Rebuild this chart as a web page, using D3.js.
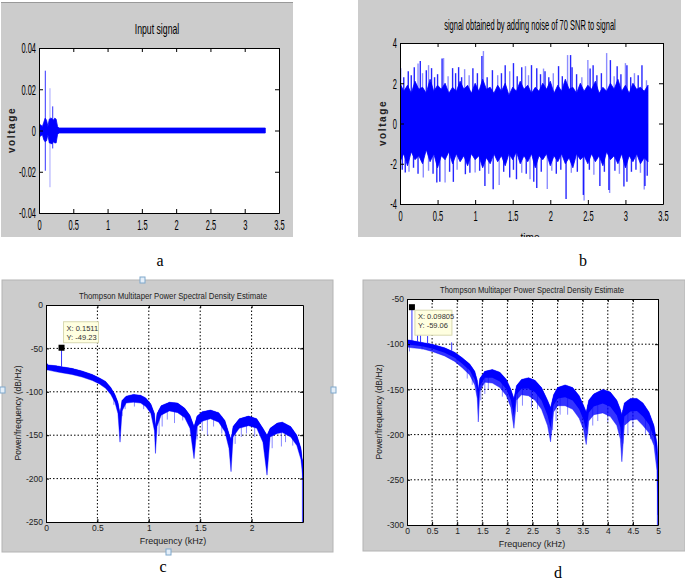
<!DOCTYPE html>
<html lang="en">
<head>
  <title>signal and spectrum panels</title>
  <meta charset="UTF-8">
  <script src="https://cdn.jsdelivr.net/npm/d3@7"></script>
  <style>
    body { margin: 0; background: #fff; }
  </style>
</head>
<body>
  <div id="box"></div>
  <script>
    const width = 685
    const height = 582

    // ---- a: input signal (envelope of the trace + single spikes)
    const aTime = [0, 0.01, 0.03, 0.05, 0.07, 0.09, 0.11, 0.13, 0.15, 0.17, 0.19, 0.21, 0.23, 0.25, 0.27, 0.29, 3.3]
    const aHigh = [0.005, 0.003, 0.0025, 0.002, 0.004, 0.006, 0.005, 0.002, 0.0055, 0.006, 0.0058, 0.005, 0.006, 0.0055, 0.002, 0.0012, 0.0012]
    const aLow = [-0.0095, -0.003, -0.0025, -0.002, -0.0045, -0.0055, -0.005, -0.002, -0.006, -0.0062, -0.0065, -0.0055, -0.006, -0.006, -0.002, -0.0012, -0.0012]
    const aSpikeTime = [0.092, 0.16, 0.2]
    const aSpikeHigh = [0.029, 0.0205, 0.0117]
    const aSpikeLow = [-0.0195, -0.0275, -0.0087]
    const aXTicks = [0, 0.5, 1, 1.5, 2, 2.5, 3, 3.5]
    const aYTicks = [-0.04, -0.02, 0, 0.02, 0.04]

    // ---- b: signal + noise (dense band + peaks)
    const bTime = [0, 0.05, 0.1, 0.15, 0.2, 0.25, 0.3, 0.35, 0.4, 0.45, 0.5, 0.55, 0.6, 0.65, 0.7, 0.75, 0.8, 0.85, 0.9, 0.95,
      1, 1.05, 1.1, 1.15, 1.2, 1.25, 1.3, 1.35, 1.4, 1.45, 1.5, 1.55, 1.6, 1.65, 1.7, 1.75, 1.8, 1.85, 1.9, 1.95,
      2, 2.05, 2.1, 2.15, 2.2, 2.25, 2.3, 2.35, 2.4, 2.45, 2.5, 2.55, 2.6, 2.65, 2.7, 2.75, 2.8, 2.85, 2.9, 2.95,
      3, 3.05, 3.1, 3.15, 3.2, 3.25, 3.3]
    const bHigh = [2.0, 1.6, 1.9, 1.5, 2.1, 1.7, 1.8, 1.5, 2.2, 1.6, 1.9, 1.7, 2.0, 1.5, 1.8, 1.6, 2.1, 1.7, 1.9, 1.5,
      2.0, 1.6, 2.2, 1.7, 1.8, 1.5, 1.9, 1.6, 2.0, 1.4, 1.8, 1.6, 2.1, 1.7, 1.9, 1.5, 1.8, 1.6, 2.0, 1.7,
      2.1, 1.5, 1.9, 1.6, 2.2, 1.7, 1.8, 1.5, 2.0, 1.6, 1.9, 1.7, 2.1, 1.5, 1.8, 1.6, 2.0, 1.7, 2.2, 1.6,
      1.9, 1.5, 2.0, 1.7, 1.8, 1.6, 1.9]
    const bLow = [-1.9, -1.5, -2.1, -1.4, -1.8, -1.6, -2.0, -1.3, -1.9, -1.5, -2.2, -1.6, -1.8, -1.4, -2.0, -1.5, -1.9, -1.6, -2.1, -1.5,
      -1.8, -1.6, -2.2, -1.7, -2.0, -1.5, -1.9, -1.6, -2.1, -1.5, -1.8, -1.4, -2.0, -1.6, -1.9, -1.5, -2.2, -1.6, -1.8, -1.5,
      -2.1, -1.6, -1.9, -1.5, -2.0, -1.7, -2.2, -1.5, -1.8, -1.6, -2.0, -1.5, -1.9, -1.6, -2.1, -1.4, -1.8, -1.6, -2.0, -1.5,
      -2.2, -1.6, -1.9, -1.5, -2.0, -1.7, -1.9]
    const bUpTime = [0.01, 0.11, 0.19, 0.24, 0.27, 0.35, 0.38, 0.42, 0.56, 0.58, 0.70, 0.78, 0.86, 0.97, 1.09, 1.11, 1.23, 1.40, 1.46, 1.51, 1.62, 1.67, 1.75, 1.82, 1.91, 1.93, 2.11, 2.23, 2.27, 2.29, 2.50, 2.53, 2.57, 2.75, 2.80, 2.89, 3.0, 3.02, 3.22, 3.28,
      0.05, 0.15, 0.30, 0.46, 0.50, 0.64, 0.74, 0.82, 0.92, 1.03, 1.16, 1.30, 1.35, 1.56, 1.71, 1.87, 1.98, 2.04, 2.16, 2.35, 2.42, 2.62, 2.68, 2.85, 2.94, 3.07, 3.12, 3.17]
    const bUpValue = [2.75, 2.6, 2.8, 2.98, 3.1, 2.65, 2.9, 2.75, 3.23, 3.25, 2.75, 2.8, 2.7, 2.75, 3.35, 3.6, 2.65, 2.9, 2.6, 3.0, 2.8, 2.85, 2.9, 2.75, 2.73, 2.6, 2.85, 3.4, 3.4, 2.8, 3.15, 2.73, 2.9, 3.5, 3.15, 2.85, 3.0, 2.9, 2.9, 2.15,
      2.3, 2.4, 2.5, 2.3, 2.45, 2.35, 2.5, 2.3, 2.4, 2.5, 2.3, 2.4, 2.5, 2.35, 2.4, 2.45, 2.3, 2.5, 2.35, 2.45, 2.3, 2.4, 2.5, 2.35, 2.45, 2.3, 2.5, 2.4]
    const bDownTime = [0.07, 0.31, 0.49, 0.53, 0.60, 0.71, 0.87, 1.0, 1.13, 1.24, 1.32, 1.46, 1.55, 1.73, 1.78, 1.82, 1.96, 2.21, 2.44, 2.45, 2.66, 2.78, 2.79, 2.98, 3.02, 3.25, 3.26,
      0.03, 0.12, 0.18, 0.24, 0.38, 0.44, 0.66, 0.76, 0.93, 1.06, 1.18, 1.38, 1.51, 1.62, 1.68, 1.88, 2.02, 2.08, 2.14, 2.28, 2.36, 2.52, 2.58, 2.72, 2.86, 2.92, 3.08, 3.14, 3.2, 3.29]
    const bDownValue = [-2.43, -2.68, -2.93, -2.9, -2.93, -2.9, -2.52, -2.43, -3.1, -3.27, -3.05, -2.68, -2.77, -2.77, -2.9, -3.2, -3.25, -3.75, -3.55, -3.83, -3.1, -3.3, -3.45, -3.13, -2.9, -3.28, -3.1,
      -2.3, -2.4, -2.2, -2.5, -2.35, -2.5, -2.4, -2.3, -2.45, -2.35, -2.5, -2.4, -2.3, -2.45, -2.5, -2.4, -2.35, -2.5, -2.3, -2.45, -2.4, -2.3, -2.55, -2.4, -2.35, -2.5, -2.4, -2.3, -2.45, -2.6]
    const bXTicks = [0, 0.5, 1, 1.5, 2, 2.5, 3, 3.5]
    const bYTicks = [-4, -2, 0, 2, 4]

    // ---- c: PSD of the input signal (kHz, dB/Hz)
    const cFreq = [0, 0.02, 0.1, 0.15, 0.25, 0.35, 0.45, 0.52, 0.58, 0.63, 0.67, 0.70, 0.72, 0.74, 0.78, 0.85, 0.92, 0.97, 1.02, 1.055, 1.065, 1.08, 1.12, 1.2, 1.28, 1.35, 1.40, 1.44, 1.47, 1.52, 1.6, 1.68, 1.74, 1.78, 1.80, 1.82, 1.88, 1.97, 2.05, 2.11, 2.15, 2.18, 2.25, 2.30, 2.38, 2.44, 2.48, 2.5]
    const cHigh = [-66, -69, -70, -71, -73, -76, -80, -84, -88, -95, -103, -112, -125, -110, -105, -103, -104, -107, -114, -125, -140, -125, -116, -112, -113, -119, -127, -140, -128, -123, -121, -124, -133, -148, -155, -140, -131, -128, -131, -142, -150, -142, -136, -135, -140, -150, -165, -185]
    const cLow = [-75, -75, -77, -78, -80, -83, -87, -91, -96, -103, -112, -125, -158, -122, -113, -112, -113, -117, -125, -145, -171, -140, -127, -122, -124, -130, -142, -177, -140, -134, -131, -135, -146, -165, -192, -152, -142, -139, -142, -158, -196, -152, -148, -147, -152, -162, -178, -200]
    const cSpikeFreq = [0.66, 0.74, 0.77, 0.86, 0.95, 1.1, 1.13, 1.18, 1.25, 1.33, 1.47, 1.52, 1.57, 1.63, 1.71, 1.84, 1.9, 1.95, 2.03, 2.2, 2.29, 2.33, 2.4]
    const cSpikeValue = [-115, -128, -120, -117, -120, -150, -140, -132, -136, -133, -155, -145, -150, -140, -148, -160, -152, -148, -152, -165, -163, -158, -162]
    const cTip = { x: 0.1511, y: -49.23 }
    const cXTicks = [0, 0.5, 1, 1.5, 2]
    const cYTicks = [-250, -200, -150, -100, -50, 0]

    // ---- d: PSD of the noisy signal
    const dFreq = [0, 0.1, 0.3, 0.5, 0.75, 0.95, 1.1, 1.25, 1.35, 1.40, 1.42, 1.45, 1.55, 1.7, 1.85, 1.98, 2.07, 2.13, 2.18, 2.28, 2.42, 2.55, 2.68, 2.80, 2.86, 2.92, 3.0, 3.15, 3.3, 3.43, 3.52, 3.57, 3.62, 3.72, 3.9, 4.05, 4.18, 4.25, 4.28, 4.33, 4.45, 4.58, 4.7, 4.82, 4.92, 4.98, 5.0]
    const dHigh = [-95, -96, -98, -100, -104, -109, -115, -122, -130, -140, -150, -138, -130, -128, -131, -139, -150, -160, -146, -139, -137, -140, -148, -162, -170, -156, -148, -145, -148, -157, -168, -175, -162, -155, -150, -153, -162, -172, -178, -165, -160, -160, -165, -175, -190, -210, -230]
    const dLow = [-103, -104, -105, -108, -113, -119, -126, -134, -145, -160, -186, -152, -142, -143, -148, -157, -170, -193, -162, -156, -157, -162, -172, -190, -208, -175, -168, -168, -172, -182, -195, -211, -185, -178, -176, -180, -190, -205, -230, -190, -184, -183, -190, -198, -212, -240, -289]
    const dSpikeFreq = [0.05, 0.3, 1.2, 1.3, 1.47, 1.55, 1.62, 1.9, 2.2, 2.3, 2.48, 2.6, 2.9, 2.97, 3.05, 3.2, 3.6, 3.7, 3.8, 4.0, 4.3, 4.4, 4.5, 4.75, 4.85]
    const dSpikeValue = [-108, -106, -138, -145, -162, -155, -150, -158, -175, -168, -170, -172, -195, -185, -178, -178, -200, -190, -185, -186, -210, -200, -192, -200, -205]
    const dUpFreq = [0, 0.2, 0.26, 0.4, 0.88]
    const dUpValue = [-50, -87, -90, -91, -98]
    const dTip = { x: 0.09805, y: -59.06 }
    const dXTicks = [0, 0.5, 1, 1.5, 2, 2.5, 3, 3.5, 4, 4.5, 5]
    const dYTicks = [-300, -250, -200, -150, -100, -50]

    const blue = '#0000ff'
    const sans = "'Liberation Sans', Arial, sans-serif"

    const svg = d3.select('#box').append('svg')
      .attr('width', width)
      .attr('height', height)
      .style('background', '#fff')

    // linear interpolation of an envelope at x
    function interp(xs, ys, x) {
      const i = Math.max(1, Math.min(xs.length - 1, d3.bisectLeft(xs, x)))
      const t = (x - xs[i - 1]) / (xs[i] - xs[i - 1])
      return ys[i - 1] + (ys[i] - ys[i - 1]) * t
    }

    // horizontally squeezed text (MATLAB screen font look)
    function narrowText(g, x, y, str, size, sx) {
      return g.append('text').attr('transform', `scale(${sx},1)`)
        .attr('x', x / sx).attr('y', y).attr('text-anchor', 'middle')
        .attr('font-family', sans).attr('font-size', size).text(str)
    }

    // MATLAB-style axes box with inward ticks on every side
    function matlabAxes(g, x, y, xt, yt, o) {
      const [xl, xr] = x.range()
      const [yb, ytop] = y.range()
      const fmt = d => String(d)
      const sx = o.sx || 1
      const bottom = g.append('g').attr('transform', `translate(0,${yb})`)
        .call(d3.axisBottom(x).tickValues(xt).tickSizeInner(-o.tick).tickSizeOuter(0).tickPadding(o.padX).tickFormat(fmt))
      const left = g.append('g').attr('transform', `translate(${xl},0)`)
        .call(d3.axisLeft(y).tickValues(yt).tickSizeInner(-o.tick).tickSizeOuter(0).tickPadding(o.padY).tickFormat(fmt))
      g.append('g').attr('transform', `translate(0,${ytop})`)
        .call(d3.axisTop(x).tickValues(xt).tickSizeInner(-o.tick).tickSizeOuter(0).tickFormat(''))
      g.append('g').attr('transform', `translate(${xr},0)`)
        .call(d3.axisRight(y).tickValues(yt).tickSizeInner(-o.tick).tickSizeOuter(0).tickFormat(''))
      g.selectAll('.domain').attr('stroke', '#000')
      g.selectAll('.tick line').attr('stroke', '#000')
      g.selectAll('.tick text').attr('font-family', o.font).attr('font-size', o.size).attr('fill', o.color)
      if (sx !== 1) {
        bottom.selectAll('text').attr('transform', `scale(${sx},1)`)
        left.selectAll('text').attr('x', -o.padY / sx).attr('transform', `scale(${sx},1)`)
      }
    }

    function plotRect(g, x, y, id) {
      const [xl, xr] = x.range()
      const [yb, yt] = y.range()
      g.append('rect').attr('x', xl).attr('y', yt).attr('width', xr - xl).attr('height', yb - yt).attr('fill', '#fff')
      svg.append('clipPath').attr('id', id).append('rect')
        .attr('x', xl).attr('y', yt).attr('width', xr - xl).attr('height', yb - yt)
      return g.append('g').attr('clip-path', `url(#${id})`)
    }

    // condensed MATLAB text look for panels a and b
    const tickStyleAB = { tick: 4, padX: 6, padY: 3, font: sans, size: 15, color: '#000', sx: 0.5 }

    // ================= panel a
    {
      const g = svg.append('g')
      g.append('rect').attr('x', 1).attr('y', 2).attr('width', 292).attr('height', 235).attr('fill', '#cccccc')
      g.append('line').attr('x1', 1).attr('x2', 293).attr('y1', 2.5).attr('y2', 2.5).attr('stroke', '#999')
      const x = d3.scaleLinear().domain([0, 3.5]).range([39, 279])
      const y = d3.scaleLinear().domain([-0.04, 0.04]).range([213, 48])
      const data = plotRect(g, x, y, 'clipA')
      data.append('path').datum(aTime)
        .attr('d', d3.area().x(d => x(d)).y0((d, i) => y(aLow[i])).y1((d, i) => y(aHigh[i])))
        .attr('fill', blue).attr('stroke', blue).attr('stroke-width', 0.8)
      data.append('line').attr('x1', x(0.002)).attr('x2', x(0.002)).attr('y1', y(0.005)).attr('y2', y(-0.0095))
        .attr('stroke', blue).attr('stroke-width', 1.2)
      data.selectAll('.spk').data(aSpikeTime).join('line')
        .attr('x1', d => x(d)).attr('x2', d => x(d))
        .attr('y1', (d, i) => y(aSpikeHigh[i])).attr('y2', (d, i) => y(aSpikeLow[i]))
        .attr('stroke', blue).attr('stroke-width', 1).attr('stroke-opacity', (d, i) => i === 1 ? 0.35 : 0.8)
      matlabAxes(g, x, y, aXTicks, aYTicks, tickStyleAB)
      narrowText(g, 157, 34, 'Input signal', 15, 0.58)
      g.append('text').attr('transform', 'translate(15,130) rotate(-90)').attr('text-anchor', 'middle')
        .attr('font-family', sans).attr('font-size', 10).attr('font-weight', 'bold').attr('fill', '#222')
        .attr('letter-spacing', 1.6).text('voltage')
    }

    // ================= panel b
    {
      svg.append('clipPath').attr('id', 'frameB').append('rect').attr('x', 358).attr('y', 0).attr('width', 323).attr('height', 237)
      const g = svg.append('g').attr('clip-path', 'url(#frameB)')
      g.append('rect').attr('x', 358).attr('y', 0).attr('width', 323).attr('height', 237).attr('fill', '#cccccc')
      const x = d3.scaleLinear().domain([0, 3.5]).range([400, 663])
      const y = d3.scaleLinear().domain([-4, 4]).range([204, 43])
      const data = plotRect(g, x, y, 'clipB')
      data.selectAll('.up').data(bUpTime).join('line')
        .attr('x1', d => x(d)).attr('x2', d => x(d)).attr('y1', y(0)).attr('y2', (d, i) => y(bUpValue[i]))
        .attr('stroke', blue).attr('stroke-width', 1.4).attr('stroke-opacity', (d, i) => i % 3 === 0 ? 0.45 : 0.85)
      data.selectAll('.down').data(bDownTime).join('line')
        .attr('x1', d => x(d)).attr('x2', d => x(d)).attr('y1', y(0)).attr('y2', (d, i) => y(bDownValue[i]))
        .attr('stroke', blue).attr('stroke-width', 1.4).attr('stroke-opacity', (d, i) => i % 3 === 1 ? 0.45 : 0.85)
      data.append('path').datum(bTime)
        .attr('d', d3.area().x(d => x(d)).y0((d, i) => y(bLow[i])).y1((d, i) => y(bHigh[i])))
        .attr('fill', blue).attr('stroke', blue).attr('stroke-width', 0.8)
      matlabAxes(g, x, y, bXTicks, bYTicks, tickStyleAB)
      narrowText(g, 530, 30, 'signal obtained by adding noise of 70 SNR to signal', 15, 0.5)
      g.append('text').attr('transform', 'translate(386,123) rotate(-90)').attr('text-anchor', 'middle')
        .attr('font-family', sans).attr('font-size', 10).attr('font-weight', 'bold').attr('fill', '#222')
        .attr('letter-spacing', 1.6).text('voltage')
      g.append('text').attr('x', 530).attr('y', 241).attr('text-anchor', 'middle')
        .attr('font-family', sans).attr('font-size', 10).text('time')
    }

    // PSD panel helper
    function psdPanel(o) {
      const g = svg.append('g')
      g.append('rect').attr('x', o.frame[0]).attr('y', o.frame[1]).attr('width', o.frame[2]).attr('height', o.frame[3])
        .attr('fill', '#cccccc').attr('stroke', '#b4b4b4')
      const x = d3.scaleLinear().domain(o.xDomain).range(o.xRange)
      const y = d3.scaleLinear().domain(o.yDomain).range(o.yRange)
      const data = plotRect(g, x, y, o.id)
      // grid is drawn under the trace
      const gridG = data.append('g')
      const gridX = o.xTicks.filter(d => d > o.xDomain[0] && d < o.xDomain[1])
      const gridY = o.yTicks.filter(d => d > o.yDomain[0] && d < o.yDomain[1])
      gridG.attr('stroke', '#000').attr('stroke-dasharray', '1.5,2')
      gridG.selectAll('.gx').data(gridX).join('line')
        .attr('x1', d => x(d)).attr('x2', d => x(d)).attr('y1', o.yRange[0]).attr('y2', o.yRange[1])
      gridG.selectAll('.gy').data(gridY).join('line')
        .attr('x1', o.xRange[0]).attr('x2', o.xRange[1]).attr('y1', d => y(d)).attr('y2', d => y(d))

      data.selectAll('.spk').data(o.spikeF).join('line')
        .attr('x1', d => x(d)).attr('x2', d => x(d))
        .attr('y1', d => y(interp(o.freq, o.high, d))).attr('y2', (d, i) => y(o.spikeV[i]))
        .attr('stroke', '#3a3aff').attr('stroke-width', 1).attr('stroke-opacity', 0.6)
      data.append('path').datum(o.freq)
        .attr('d', d3.area().x(d => x(d)).y0((d, i) => y(o.low[i])).y1((d, i) => y(o.high[i])))
        .attr('fill', blue).attr('fill-opacity', o.lowerOpacity).attr('stroke', blue).attr('stroke-opacity', 0.5).attr('stroke-width', 0.8)
      data.append('path').datum(o.freq)
        .attr('d', d3.area().x(d => x(d))
          .y0((d, i) => y(o.high[i] + (o.low[i] - o.high[i]) * 0.6)).y1((d, i) => y(o.high[i])))
        .attr('fill', blue)
      data.selectAll('.up').data(o.upF).join('line')
        .attr('x1', d => x(d) + 0.5).attr('x2', d => x(d) + 0.5)
        .attr('y1', d => y(interp(o.freq, o.high, d))).attr('y2', (d, i) => y(o.upV[i]))
        .attr('stroke', blue).attr('stroke-width', 1).attr('stroke-opacity', 0.8)
      const endF = o.freq[o.freq.length - 1]
      data.append('line').attr('x1', x(endF) - 0.5).attr('x2', x(endF) - 0.5)
        .attr('y1', y(o.low[o.low.length - 2])).attr('y2', y(o.tailEnd))
        .attr('stroke', blue).attr('stroke-width', 1.2).attr('stroke-opacity', 0.7)
      // data tip line up to the marker
      data.append('line').attr('x1', x(o.tip.x)).attr('x2', x(o.tip.x))
        .attr('y1', y(interp(o.freq, o.high, o.tip.x))).attr('y2', y(o.tip.y))
        .attr('stroke', blue).attr('stroke-opacity', 0.8)

      matlabAxes(g, x, y, o.xTicks, o.yTicks, { tick: 3, padX: 3, padY: 3, font: sans, size: 8.5, color: '#222' })

      g.append('text').attr('x', o.titlePos[0]).attr('y', o.titlePos[1]).attr('text-anchor', 'middle')
        .attr('font-family', sans).attr('font-size', 8.5).attr('fill', '#222')
        .attr('textLength', o.titleLen).attr('lengthAdjust', 'spacingAndGlyphs')
        .text('Thompson Multitaper Power Spectral Density Estimate')
      g.append('text').attr('x', o.xLabelPos[0]).attr('y', o.xLabelPos[1]).attr('text-anchor', 'middle')
        .attr('font-family', sans).attr('font-size', 9).attr('fill', '#222').text('Frequency (kHz)')
      g.append('text').attr('transform', `translate(${o.yLabelPos[0]},${o.yLabelPos[1]}) rotate(-90)`).attr('text-anchor', 'middle')
        .attr('font-family', sans).attr('font-size', 8.5).attr('fill', '#222').text('Power/frequency (dB/Hz)')

      // data tip
      const mx = x(o.tip.x), my = y(o.tip.y)
      g.append('rect').attr('x', mx - 3).attr('y', my - 3).attr('width', 6).attr('height', 6).attr('fill', '#000')
      const bx = mx + o.boxOff[0], by = my + o.boxOff[1]
      g.append('rect').attr('x', bx).attr('y', by).attr('width', o.boxSize[0]).attr('height', o.boxSize[1])
        .attr('fill', '#ffffe0').attr('stroke', '#d8d8b0')
      g.append('text').attr('x', bx + 3).attr('y', by + 9).attr('font-family', sans).attr('font-size', 7.5).attr('fill', '#333')
        .text(`X: ${o.tip.x}`)
      g.append('text').attr('x', bx + 3).attr('y', by + 18).attr('font-family', sans).attr('font-size', 7.5).attr('fill', '#333')
        .text(`Y: ${o.tip.y}`)
      return g
    }

    // ================= panel c
    const gc = psdPanel({
      id: 'clipC', frame: [2, 280, 331, 272],
      xDomain: [0, 2.5], xRange: [46, 303], yDomain: [-250, 0], yRange: [522, 305],
      freq: cFreq, high: cHigh, low: cLow, spikeF: cSpikeFreq, spikeV: cSpikeValue,
      upF: [0], upV: [-60], tip: cTip, tailEnd: -250, lowerOpacity: 1,
      xTicks: cXTicks, yTicks: cYTicks,
      titlePos: [173, 299], titleLen: 188, xLabelPos: [173, 544], yLabelPos: [21, 413],
      boxOff: [2, -26], boxSize: [35, 21]
    })
    // selection handles on the c frame
    const handles = [[0, 387], [331, 387], [166, 549], [140, 277]]
    gc.selectAll('.handle').data(handles).join('rect')
      .attr('x', d => d[0]).attr('y', d => d[1]).attr('width', 5).attr('height', 6)
      .attr('fill', '#e4eef8').attr('stroke', '#7fa8cc')

    // ================= panel d
    psdPanel({
      id: 'clipD', frame: [363, 280, 322, 271],
      xDomain: [0, 5], xRange: [407, 658], yDomain: [-300, -50], yRange: [525, 299],
      freq: dFreq, high: dHigh, low: dLow, spikeF: dSpikeFreq, spikeV: dSpikeValue,
      upF: dUpFreq, upV: dUpValue, tip: dTip, tailEnd: -300, lowerOpacity: 0.8,
      xTicks: dXTicks, yTicks: dYTicks,
      titlePos: [532, 293], titleLen: 184, xLabelPos: [532, 547], yLabelPos: [382, 412],
      boxOff: [3, 3], boxSize: [37, 25]
    })

    // panel letters
    const letters = [['a', 160, 266], ['b', 583, 266], ['c', 163, 572], ['d', 558, 578]]
    svg.selectAll('.letter').data(letters).join('text')
      .attr('x', d => d[1]).attr('y', d => d[2]).attr('text-anchor', 'middle')
      .attr('font-family', "'Liberation Serif', 'Times New Roman', serif").attr('font-size', 16)
      .text(d => d[0])
  </script>
</body>
</html>
